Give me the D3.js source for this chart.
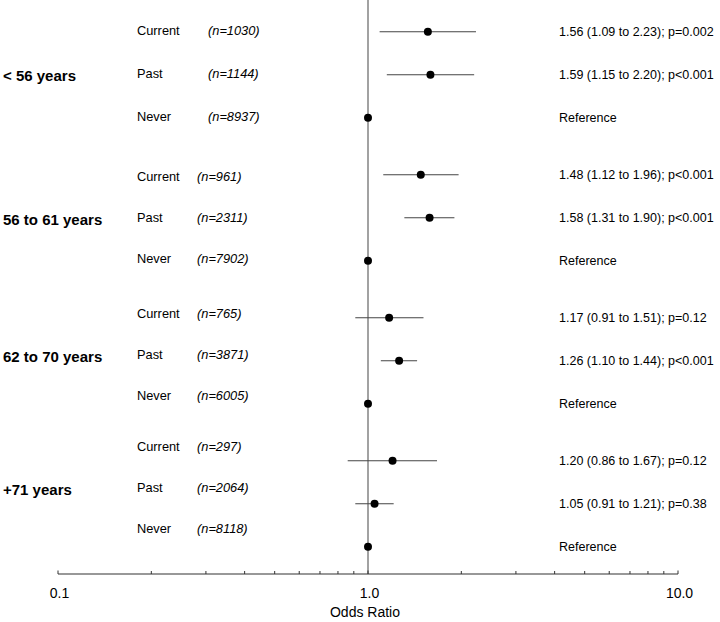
<!DOCTYPE html>
<html>
<head>
<meta charset="utf-8">
<script src="https://cdn.jsdelivr.net/npm/d3@7"></script>
<style>
  html, body { margin: 0; padding: 0; background: #fff; }
  svg { display: block; }
  text { font-family: "Liberation Sans", Arial, sans-serif; fill: #000; }
</style>
</head>
<body>
<svg id="chart" width="720" height="622"></svg>
<script>
// ---------------- data ----------------
const groups = ["< 56 years", "56 to 61 years", "62 to 70 years", "+71 years"];
const statuses = ["Current", "Past", "Never"];
const nCounts = [
  [1030, 1144, 8937],
  [961, 2311, 7902],
  [765, 3871, 6005],
  [297, 2064, 8118]
];
const oddsRatio = [
  [1.56, 1.59, 1.00],
  [1.48, 1.58, 1.00],
  [1.17, 1.26, 1.00],
  [1.20, 1.05, 1.00]
];
const ciLower = [
  [1.09, 1.15, null],
  [1.12, 1.31, null],
  [0.91, 1.10, null],
  [0.86, 0.91, null]
];
const ciUpper = [
  [2.23, 2.20, null],
  [1.96, 1.90, null],
  [1.51, 1.44, null],
  [1.67, 1.21, null]
];
const pValues = [
  ["p=0.002", "p<0.001", null],
  ["p<0.001", "p<0.001", null],
  ["p=0.12", "p<0.001", null],
  ["p=0.12", "p=0.38", null]
];
const tickValues = [0.1, 1, 10];
const tickLabels = ["0.1", "1.0", "10.0"];
const minorTicks = [0.2, 0.3, 0.4, 0.5, 0.6, 0.7, 0.8, 0.9, 2, 3, 4, 5, 6, 7, 8, 9];
const xTitle = "Odds Ratio";

// ---------------- layout ----------------
const svg = d3.select("#chart");
const axisY = 574;
const x = d3.scaleLog().domain([0.1, 10]).range([58, 678]);
// point rows: 43px within group, 57px between groups
const groupGap = 14 / 43;
const yRow = d3.scaleLinear().domain([0, 1]).range([31.7, 74.7]);
const slot = (g, r) => g * 3 + r + g * groupGap;

// label rows (left side) have their own slightly different spacing
const labelTop = [31, 177, 314, 447];
const labelStep = [43, 41, 41, 41];
const nLabelX = [208, 197, 197, 197];

const fmt = d3.format(".2f");

// rows flattened
const rows = [];
groups.forEach((g, gi) => {
  statuses.forEach((s, si) => {
    rows.push({
      gi, si, group: g, status: s,
      n: nCounts[gi][si],
      or: oddsRatio[gi][si],
      lo: ciLower[gi][si],
      hi: ciUpper[gi][si],
      p: pValues[gi][si]
    });
  });
});

// reference vertical line
svg.append("line")
  .attr("x1", x(1)).attr("x2", x(1))
  .attr("y1", 0).attr("y2", axisY)
  .attr("stroke", "#707070").attr("stroke-width", 1.3);

// axis
const axisG = svg.append("g");
axisG.append("line")
  .attr("x1", x(0.1)).attr("x2", x(10))
  .attr("y1", axisY).attr("y2", axisY)
  .attr("stroke", "#333").attr("stroke-width", 1.2);
axisG.selectAll("line.major").data(tickValues).enter().append("line")
  .attr("class", "major")
  .attr("x1", d => x(d)).attr("x2", d => x(d))
  .attr("y1", axisY).attr("y2", axisY - 3.5)
  .attr("stroke", "#333").attr("stroke-width", 1);
axisG.selectAll("line.minor").data(minorTicks).enter().append("line")
  .attr("class", "minor")
  .attr("x1", d => x(d)).attr("x2", d => x(d))
  .attr("y1", axisY).attr("y2", axisY - 3)
  .attr("stroke", "#333").attr("stroke-width", 1);
axisG.selectAll("text.tl").data(tickValues).enter().append("text")
  .attr("class", "tl")
  .attr("x", (d, i) => x(d) + 1.5)
  .attr("y", 598)
  .attr("text-anchor", "middle")
  .attr("font-size", "14px")
  .attr("fill", "#222")
  .text((d, i) => tickLabels[i]);
svg.append("text")
  .attr("x", x(1) - 3)
  .attr("y", 617)
  .attr("text-anchor", "middle")
  .attr("font-size", "14px")
  .attr("fill", "#222")
  .text(xTitle);

// CI lines
svg.selectAll("line.ci").data(rows.filter(d => d.lo != null)).enter().append("line")
  .attr("class", "ci")
  .attr("x1", d => x(d.lo)).attr("x2", d => x(d.hi))
  .attr("y1", d => yRow(slot(d.gi, d.si))).attr("y2", d => yRow(slot(d.gi, d.si)))
  .attr("stroke", "#444").attr("stroke-width", 1.1);

// points
svg.selectAll("circle.pt").data(rows).enter().append("circle")
  .attr("class", "pt")
  .attr("cx", d => x(d.or))
  .attr("cy", d => yRow(slot(d.gi, d.si)))
  .attr("r", 4)
  .attr("fill", "#000");

// right annotations
svg.selectAll("text.ann").data(rows).enter().append("text")
  .attr("class", "ann")
  .attr("x", 559)
  .attr("y", d => yRow(slot(d.gi, d.si)))
  .attr("dy", "0.35em")
  .attr("font-size", "12.5px")
  .attr("fill", "#111")
  .text(d => d.lo == null ? "Reference"
    : `${fmt(d.or)} (${fmt(d.lo)} to ${fmt(d.hi)}); ${d.p}`);

// left status labels
svg.selectAll("text.status").data(rows).enter().append("text")
  .attr("class", "status")
  .attr("x", 137)
  .attr("y", d => labelTop[d.gi] + d.si * labelStep[d.gi])
  .attr("dy", "0.35em")
  .attr("font-size", "12.8px")
  .attr("fill", "#111")
  .text(d => d.status);

// n labels
svg.selectAll("text.n").data(rows).enter().append("text")
  .attr("class", "n")
  .attr("x", d => nLabelX[d.gi])
  .attr("y", d => labelTop[d.gi] + d.si * labelStep[d.gi])
  .attr("dy", "0.35em")
  .attr("font-size", "12.8px")
  .attr("font-style", "italic")
  .attr("fill", "#111")
  .text(d => `(n=${d.n})`);

// group labels
svg.selectAll("text.grp").data(groups).enter().append("text")
  .attr("class", "grp")
  .attr("x", 3)
  .attr("y", (d, i) => labelTop[i] + labelStep[i] + 2)
  .attr("dy", "0.35em")
  .attr("font-size", "15px")
  .attr("font-weight", "bold")
  .text(d => d);
</script>
</body>
</html>
